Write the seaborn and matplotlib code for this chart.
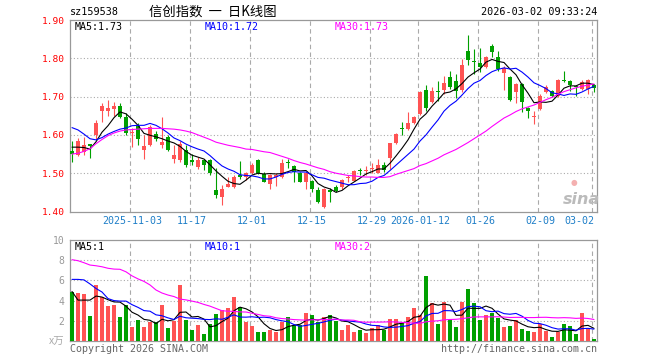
import numpy as np
import matplotlib
matplotlib.use("Agg")
import matplotlib.pyplot as plt
import seaborn as sns

# daily K-line, 88 sessions 2025-10-20 .. 2026-03-02
opens = [1.557, 1.547, 1.556, 1.576, 1.599, 1.663, 1.663, 1.668, 1.676, 1.647,
         1.605, 1.623, 1.561, 1.573, 1.602, 1.574, 1.595, 1.536, 1.535, 1.561,
         1.535, 1.517, 1.535, 1.535, 1.457, 1.439, 1.465, 1.465, 1.496, 1.489,
         1.500, 1.535, 1.498, 1.472, 1.491, 1.491, 1.527, 1.519, 1.500, 1.478,
         1.480, 1.455, 1.413, 1.455, 1.465, 1.463, 1.487, 1.480, 1.507, 1.505,
         1.511, 1.500, 1.522, 1.539, 1.578, 1.618, 1.615, 1.630, 1.655, 1.717,
         1.685, 1.715, 1.717, 1.752, 1.740, 1.716, 1.818, 1.793, 1.787, 1.776,
         1.833, 1.804, 1.762, 1.752, 1.711, 1.733, 1.669, 1.647, 1.668, 1.711,
         1.714, 1.702, 1.743, 1.742, 1.727, 1.720, 1.720, 1.729]
highs = [1.583, 1.591, 1.595, 1.577, 1.640, 1.682, 1.691, 1.686, 1.682, 1.657,
         1.619, 1.630, 1.600, 1.625, 1.610, 1.647, 1.600, 1.573, 1.583, 1.574,
         1.550, 1.543, 1.537, 1.537, 1.513, 1.470, 1.490, 1.496, 1.532, 1.504,
         1.526, 1.537, 1.502, 1.498, 1.500, 1.537, 1.537, 1.522, 1.502, 1.502,
         1.481, 1.463, 1.461, 1.461, 1.469, 1.484, 1.496, 1.509, 1.513, 1.519,
         1.526, 1.537, 1.530, 1.580, 1.604, 1.633, 1.661, 1.650, 1.714, 1.729,
         1.724, 1.742, 1.755, 1.766, 1.759, 1.798, 1.860, 1.824, 1.827, 1.807,
         1.837, 1.820, 1.780, 1.755, 1.735, 1.735, 1.672, 1.663, 1.707, 1.729,
         1.717, 1.746, 1.768, 1.743, 1.729, 1.743, 1.746, 1.733]
lows = [1.530, 1.545, 1.547, 1.539, 1.586, 1.634, 1.649, 1.649, 1.644, 1.599,
        1.568, 1.573, 1.538, 1.570, 1.585, 1.565, 1.557, 1.526, 1.530, 1.517,
        1.522, 1.510, 1.509, 1.496, 1.435, 1.417, 1.463, 1.461, 1.485, 1.483,
        1.498, 1.498, 1.476, 1.458, 1.467, 1.487, 1.513, 1.476, 1.477, 1.458,
        1.452, 1.423, 1.410, 1.424, 1.450, 1.460, 1.478, 1.479, 1.494, 1.496,
        1.500, 1.500, 1.504, 1.510, 1.576, 1.600, 1.614, 1.628, 1.653, 1.663,
        1.682, 1.688, 1.707, 1.720, 1.696, 1.713, 1.783, 1.759, 1.763, 1.775,
        1.803, 1.768, 1.718, 1.689, 1.682, 1.660, 1.644, 1.628, 1.665, 1.709,
        1.700, 1.700, 1.737, 1.714, 1.701, 1.717, 1.707, 1.711]
closes = [1.549, 1.584, 1.573, 1.571, 1.632, 1.676, 1.670, 1.676, 1.647, 1.605,
          1.608, 1.590, 1.570, 1.621, 1.588, 1.581, 1.560, 1.547, 1.576, 1.522,
          1.530, 1.535, 1.522, 1.500, 1.443, 1.458, 1.472, 1.491, 1.489, 1.500,
          1.522, 1.500, 1.478, 1.496, 1.496, 1.526, 1.526, 1.504, 1.478, 1.500,
          1.458, 1.426, 1.459, 1.451, 1.454, 1.483, 1.489, 1.506, 1.505, 1.507,
          1.513, 1.522, 1.509, 1.578, 1.602, 1.616, 1.630, 1.648, 1.711, 1.670,
          1.714, 1.713, 1.735, 1.726, 1.714, 1.783, 1.796, 1.791, 1.776, 1.804,
          1.816, 1.772, 1.775, 1.691, 1.733, 1.685, 1.663, 1.649, 1.702, 1.724,
          1.702, 1.743, 1.741, 1.729, 1.725, 1.737, 1.743, 1.723]

ma5 = [1.568, 1.568, 1.567, 1.563, 1.582, 1.607, 1.624, 1.645, 1.660, 1.655,
       1.641, 1.625, 1.604, 1.599, 1.595, 1.590, 1.584, 1.579, 1.570, 1.557,
       1.547, 1.542, 1.537, 1.522, 1.506, 1.492, 1.479, 1.473, 1.471, 1.482,
       1.495, 1.500, 1.498, 1.499, 1.498, 1.499, 1.504, 1.510, 1.506, 1.507,
       1.493, 1.473, 1.464, 1.459, 1.450, 1.455, 1.467, 1.477, 1.487, 1.498,
       1.504, 1.511, 1.511, 1.526, 1.545, 1.565, 1.587, 1.615, 1.641, 1.655,
       1.675, 1.691, 1.709, 1.712, 1.720, 1.734, 1.751, 1.762, 1.772, 1.790,
       1.797, 1.792, 1.789, 1.772, 1.757, 1.731, 1.709, 1.684, 1.686, 1.685,
       1.688, 1.704, 1.722, 1.728, 1.728, 1.735, 1.735, 1.731]
ma10 = [1.619, 1.613, 1.602, 1.590, 1.587, 1.593, 1.602, 1.609, 1.615, 1.618,
        1.624, 1.625, 1.625, 1.630, 1.625, 1.616, 1.605, 1.592, 1.585, 1.576,
        1.569, 1.563, 1.558, 1.546, 1.532, 1.519, 1.511, 1.505, 1.496, 1.494,
        1.493, 1.490, 1.485, 1.485, 1.490, 1.497, 1.502, 1.504, 1.503, 1.503,
        1.496, 1.489, 1.487, 1.482, 1.478, 1.474, 1.470, 1.470, 1.473, 1.474,
        1.479, 1.489, 1.494, 1.507, 1.521, 1.535, 1.549, 1.563, 1.584, 1.600,
        1.620, 1.639, 1.662, 1.677, 1.688, 1.704, 1.721, 1.735, 1.742, 1.755,
        1.765, 1.771, 1.775, 1.772, 1.774, 1.764, 1.751, 1.736, 1.729, 1.721,
        1.710, 1.707, 1.703, 1.707, 1.706, 1.712, 1.720, 1.727]
ma30 = [1.550, 1.552, 1.557, 1.564, 1.577, 1.588, 1.598, 1.605, 1.610, 1.613,
        1.614, 1.615, 1.616, 1.617, 1.617, 1.617, 1.616, 1.615, 1.613, 1.610,
        1.606, 1.600, 1.594, 1.588, 1.581, 1.577, 1.573, 1.570, 1.567, 1.563,
        1.562, 1.559, 1.556, 1.554, 1.549, 1.544, 1.539, 1.533, 1.528, 1.524,
        1.519, 1.514, 1.510, 1.504, 1.500, 1.497, 1.494, 1.493, 1.491, 1.490,
        1.490, 1.489, 1.489, 1.491, 1.497, 1.502, 1.507, 1.512, 1.520, 1.525,
        1.532, 1.539, 1.548, 1.555, 1.562, 1.571, 1.580, 1.590, 1.600, 1.610,
        1.622, 1.633, 1.644, 1.652, 1.661, 1.668, 1.673, 1.678, 1.685, 1.692,
        1.698, 1.706, 1.713, 1.718, 1.723, 1.727, 1.730, 1.733]

# volume in 万
volumes = [4.87, 4.73, 4.64, 2.48, 5.53, 4.37, 3.44, 3.54, 2.35, 3.54,
           1.39, 2.05, 1.39, 1.89, 1.89, 3.54, 1.29, 1.95, 5.53, 2.05,
           1.06, 1.56, 0.66, 1.66, 2.65, 3.05, 3.28, 4.37, 3.38, 1.89,
           1.49, 0.89, 0.89, 1.06, 0.89, 1.89, 2.38, 1.56, 1.56, 2.78,
           2.55, 1.89, 2.38, 2.62, 1.95, 1.06, 1.56, 0.89, 1.06, 0.79,
           1.32, 1.56, 1.13, 2.15, 2.15, 1.82, 2.35, 3.28, 2.62, 6.46,
           3.74, 1.66, 3.84, 2.05, 1.39, 3.84, 5.13, 3.74, 2.05, 2.55,
           2.75, 2.25, 1.36, 1.46, 2.12, 1.16, 0.96, 0.89, 1.66, 0.96,
           0.36, 0.89, 1.66, 1.46, 0.66, 2.75, 1.23, 0.17]
vma5 = [4.90, 4.05, 4.05, 4.05, 4.45, 4.35, 4.09, 3.87, 3.85, 3.45,
        2.85, 2.57, 2.14, 2.05, 1.72, 2.15, 2.00, 2.11, 2.84, 2.87,
        2.38, 2.43, 2.17, 1.40, 1.52, 1.92, 2.26, 3.00, 3.35, 3.19,
        2.88, 2.40, 1.71, 1.24, 1.04, 1.12, 1.42, 1.56, 1.66, 2.03,
        2.17, 2.07, 2.23, 2.44, 2.28, 1.98, 1.91, 1.62, 1.30, 1.07,
        1.12, 1.12, 1.17, 1.39, 1.66, 1.76, 1.92, 2.35, 2.44, 3.31,
        3.69, 3.55, 3.66, 3.55, 2.54, 2.56, 3.25, 3.23, 3.23, 3.46,
        3.24, 2.67, 2.19, 2.07, 1.99, 1.67, 1.41, 1.32, 1.36, 1.13,
        0.97, 0.95, 1.11, 1.07, 1.01, 1.48, 1.55, 1.25]
vma10 = [6.10, 6.10, 6.05, 5.65, 5.20, 4.85, 4.20, 4.00, 3.95, 3.95,
         3.60, 3.33, 3.01, 2.95, 2.59, 2.50, 2.29, 2.13, 2.45, 2.30,
         2.26, 2.22, 2.14, 2.12, 2.20, 2.15, 2.35, 2.59, 2.37, 2.36,
         2.40, 2.33, 2.36, 2.30, 2.12, 2.00, 1.91, 1.63, 1.45, 1.54,
         1.65, 1.75, 1.89, 2.05, 2.16, 2.07, 1.99, 1.92, 1.87, 1.68,
         1.55, 1.52, 1.39, 1.35, 1.37, 1.44, 1.52, 1.76, 1.92, 2.48,
         2.73, 2.74, 3.01, 3.00, 2.92, 3.12, 3.40, 3.45, 3.39, 3.00,
         2.90, 2.96, 2.71, 2.65, 2.73, 2.46, 2.04, 1.76, 1.72, 1.56,
         1.32, 1.18, 1.21, 1.21, 1.07, 1.23, 1.25, 1.18]
vma30 = [8.05, 7.95, 7.75, 7.52, 7.45, 7.35, 7.20, 7.12, 7.10, 6.85,
         6.45, 6.15, 5.90, 5.55, 5.05, 4.75, 4.55, 4.40, 4.15, 4.07,
         3.95, 3.82, 3.62, 3.45, 3.22, 3.00, 2.95, 2.93, 2.88, 2.87,
         2.75, 2.63, 2.50, 2.45, 2.30, 2.22, 2.18, 2.12, 2.09, 2.06,
         2.10, 2.10, 2.13, 2.15, 2.16, 2.07, 2.08, 2.05, 1.90, 1.86,
         1.87, 1.87, 1.88, 1.90, 1.88, 1.84, 1.81, 1.77, 1.75, 1.90,
         1.97, 2.00, 2.10, 2.13, 2.15, 2.21, 2.30, 2.38, 2.39, 2.39,
         2.39, 2.40, 2.37, 2.33, 2.34, 2.34, 2.32, 2.32, 2.34, 2.35,
         2.31, 2.29, 2.31, 2.29, 2.24, 2.27, 2.23, 2.13]

tick_pos = [10, 20, 30, 40, 50, 58, 68, 78, 87]
tick_labels = ["2025-11-03", "11-17", "12-01", "12-15", "12-29",
               "2026-01-12", "01-26", "02-09", "03-02"]
price_ticks = [1.40, 1.50, 1.60, 1.70, 1.80, 1.90]
vol_ticks = [0, 2, 4, 6, 8, 10]

sns.set_style("white")
plt.rcParams['font.family'] = ['DejaVu Sans Mono', 'Noto Sans CJK SC']
CJK = ['Noto Sans CJK SC', 'DejaVu Sans']

RED = '#FF5353'
GREEN = '#00A000'
GRID = '#AAAAAA'
FRAME = '#999999'

W, H = 660, 360
fig = plt.figure(figsize=(6.6, 3.6), dpi=100)
ax1 = fig.add_axes([70 / W, 1 - 211.5 / H, 527 / W, 191.5 / H])
ax2 = fig.add_axes([70 / W, 1 - 341 / H, 527 / W, 101 / H])

x = np.arange(len(closes))
o = np.array(opens)
c = np.array(closes)
colors = [RED if cc > oo else GREEN for oo, cc in zip(o, c)]
body_bottom = np.minimum(o, c)
body_height = np.maximum(np.abs(c - o), 0.0022)

grid_x = [p - 1 / 3 for p in tick_pos]

for ax in (ax1, ax2):
    ax.set_xlim(-1 / 3, 87.5)
    for s in ax.spines.values():
        s.set_color(FRAME)
        s.set_linewidth(0.9)
    for gx in grid_x:
        ax.axvline(gx, color=GRID, lw=0.8, ls=(0, (4, 3)), zorder=0)

# price panel
for py in price_ticks[1:-1]:
    ax1.axhline(py, color=GRID, lw=0.8, ls=(0, (1, 2)), zorder=0)
ax1.vlines(x, lows, highs, colors=colors, linewidth=0.8, zorder=2)
ax1.bar(x, body_height, bottom=body_bottom, width=0.8, color=colors,
        linewidth=0, zorder=3)
sns.lineplot(x=x, y=ma5, ax=ax1, color='black', linewidth=0.8, zorder=4)
sns.lineplot(x=x, y=ma10, ax=ax1, color='#0000FF', linewidth=0.8, zorder=4)
sns.lineplot(x=x, y=ma30, ax=ax1, color='#FF00FF', linewidth=0.8, zorder=4)
ax1.set_ylim(1.40, 1.90)
ax1.set_yticks(price_ticks)
ax1.set_yticklabels([f"{v:.2f}" for v in price_ticks], color='#FF0000', fontsize=6.8)
ax1.set_xticks(tick_pos)
ax1.set_xticklabels(tick_labels, color='#1F7FC8', fontsize=7.2)
ax1.get_xticklabels()[-1].set_ha('right')
ax1.tick_params(axis='both', length=0)
ax1.tick_params(axis='y', pad=4)
ax1.tick_params(axis='x', pad=3)
ax1.set_xlabel("")
ax1.set_ylabel("")

# volume panel
for vy in vol_ticks[1:-1]:
    ax2.axhline(vy, color=GRID, lw=0.8, ls=(0, (1, 2)), zorder=0)
ax2.bar(x, volumes, width=0.8, color=colors, linewidth=0, zorder=3)
sns.lineplot(x=x, y=vma5, ax=ax2, color='black', linewidth=0.8, zorder=4)
sns.lineplot(x=x, y=vma10, ax=ax2, color='#0000FF', linewidth=0.8, zorder=4)
sns.lineplot(x=x, y=vma30, ax=ax2, color='#FF00FF', linewidth=0.8, zorder=4)
ax2.set_ylim(0, 10)
ax2.set_yticks(vol_ticks)
ax2.set_yticklabels([""] + [str(v) for v in vol_ticks[1:]], color='#999999', fontsize=7)
ax2.set_xticks(tick_pos)
ax2.set_xticklabels([])
ax2.tick_params(axis='both', length=0)
ax2.tick_params(axis='y', pad=4)
ax2.set_xlabel("")
ax2.set_ylabel("")


def ftext(px, py, s, **kw):
    fig.text(px / W, 1 - py / H, s, va='center', **kw)


# header
ftext(70, 12, "sz159538", ha='left', fontsize=7.3, color='black')
ftext(213, 12, "信创指数  一  日K线图", ha='center', fontsize=9.6, color='black', family=CJK)
ftext(597, 12, "2026-03-02 09:33:24", ha='right', fontsize=7.3, color='black')

# MA legends
ftext(75, 27, "MA5:1.73", ha='left', fontsize=7.2, color='black')
ftext(205, 27, "MA10:1.72", ha='left', fontsize=7.2, color='#0000FF')
ftext(335, 27, "MA30:1.73", ha='left', fontsize=7.2, color='#FF00FF')
ftext(75, 247, "MA5:1", ha='left', fontsize=7.2, color='black')
ftext(205, 247, "MA10:1", ha='left', fontsize=7.2, color='#0000FF')
ftext(335, 247, "MA30:2", ha='left', fontsize=7.2, color='#FF00FF')

# footer
ftext(57, 342, "x万", ha='center', fontsize=7.5, color='#AAAAAA', family=CJK)
ftext(70, 349, "Copyright 2026 SINA.COM", ha='left', fontsize=7.2, color='#666666')
ftext(597, 349, "http://finance.sina.com.cn", ha='right', fontsize=7.2, color='#666666')

# watermark
ftext(581, 200, "sina", ha='center', fontsize=11.5, color='#BBBBBB',
      style='italic', weight='bold', family='DejaVu Sans')
ftext(574, 183, "●", ha='center', fontsize=5.5, color='#F4B0B0', family='DejaVu Sans')

fig.savefig("out.png", dpi=100)
